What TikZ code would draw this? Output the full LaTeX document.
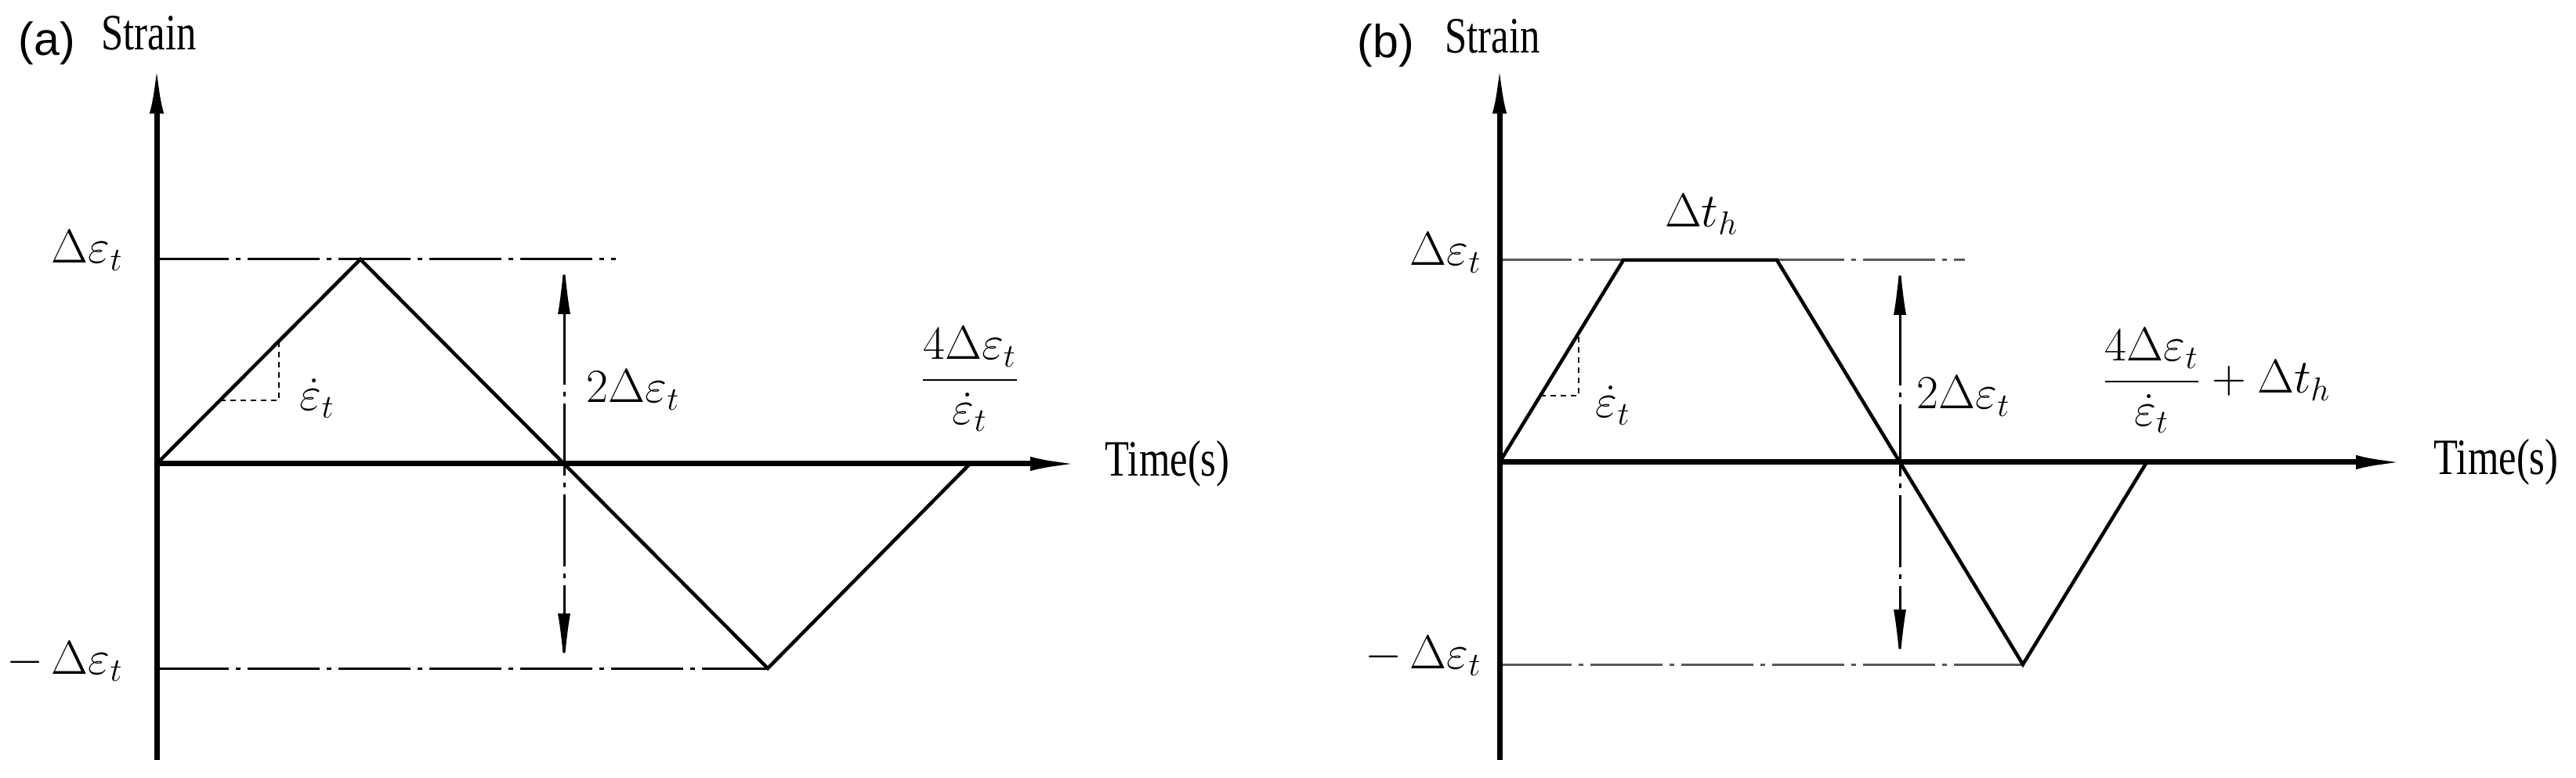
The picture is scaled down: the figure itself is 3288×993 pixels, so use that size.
\documentclass[tikz,border=0pt]{standalone}
\usepackage{amsmath}
\usepackage{fontspec}
\setmainfont{Liberation Serif}
\newfontfamily\narrowserif[FakeStretch=0.78]{Liberation Serif}
\newfontfamily\panelfont{Liberation Sans}
\usetikzlibrary{positioning,calc,arrows.meta}

\begin{document}
\begin{tikzpicture}[x=0.1mm, y=-0.1mm]
    \tikzstyle{axis line} = [line width=0.7mm, -{Latex[length=6.5mm, width=1.8mm]}]
    \tikzstyle{wave line} = [line width=0.45mm]
    \tikzstyle{level line} = [line width=0.3mm, dash pattern=on 9.2mm off 0.9mm on 0.6mm off 0.9mm]
    \tikzstyle{dim line} = [level line, {Latex[length=7mm, width=1.6mm]}-{Latex[length=7mm, width=1.6mm]}]
    \tikzstyle{slope line} = [line width=0.25mm, dash pattern=on 0.7mm off 0.6mm]
    \tikzstyle{math label} = [inner sep=0pt, font=\fontsize{18}{22}\selectfont]
    \tikzstyle{axis label} = [inner sep=0pt, font=\narrowserif\fontsize{18.5}{22}\selectfont]
    \tikzstyle{panel label} = [inner sep=0pt, font=\panelfont\fontsize{16.8}{20}\selectfont]
    \useasboundingbox (0,0) rectangle (3288,993);

    % (a) triangular wave
    \coordinate (oa) at (200,592);
    \coordinate (ytopa) at (200,80);
    \coordinate (ybota) at (200,970);
    \coordinate (xenda) at (1380,592);
    \coordinate (pka) at (460,331);
    \coordinate (zca) at (720,592);
    \coordinate (tra) at (980,853);
    \coordinate (enda) at (1238,592);
    \coordinate (hiya) at (200,331);
    \coordinate (hixa) at (786,331);
    \coordinate (loya) at (200,853);
    \coordinate (hida) at (720,331);
    \coordinate (loda) at (720,853);
    \coordinate (sla) at ($(oa)!0.31!(pka)$);
    \coordinate (sta) at ($(oa)!0.6!(pka)$);

    \draw[level line] (hiya) -- (hixa);
    \draw[level line] (loya) -- (tra);
    \draw[dim line] (hida) -- (loda);
    \draw[slope line] (sla) -| (sta);
    \draw[axis line] (ybota) -- (ytopa);
    \draw[axis line] (oa) -- (xenda);
    \draw[wave line] (oa) -- (pka) -- (zca) -- (tra) -- (enda);

    \node[panel label] (taga) at (60,55) {(a)};
    \node[axis label] (straina) at (190,42) {Strain};
    \node[axis label, anchor=west] (timea) at (1410,592) {Time(s)};
    \node[math label, anchor=base east] (hilaba) at (158,336) {$\Delta\varepsilon_t$};
    \node[math label, anchor=base east] (lolaba) at (158,860) {$-\,\Delta\varepsilon_t$};
    \node[math label, anchor=base west] (ratea) at (382,524) {$\dot{\varepsilon}_t$};
    \node[math label, anchor=base west] (ampa) at (748,514) {$2\Delta\varepsilon_t$};
    \node[math label, anchor=base] (perioda) at (1238,500) {$\dfrac{4\Delta\varepsilon_t}{\dot{\varepsilon}_t}$};

    % (b) trapezoidal wave
    \coordinate (ob) at (1914,590);
    \coordinate (ytopb) at (1914,80);
    \coordinate (ybotb) at (1914,970);
    \coordinate (xendb) at (3072,590);
    \coordinate (h1b) at (2072,332);
    \coordinate (h2b) at (2268,332);
    \coordinate (zcb) at (2425,590);
    \coordinate (trb) at (2582,848);
    \coordinate (endb) at (2740,590);
    \coordinate (hiyb) at (1914,332);
    \coordinate (hixb) at (2508,332);
    \coordinate (loyb) at (1914,848);
    \coordinate (hidb) at (2425,332);
    \coordinate (lodb) at (2425,848);
    \coordinate (slb) at ($(ob)!0.33!(h1b)$);
    \coordinate (stb) at ($(ob)!0.64!(h1b)$);

    \draw[level line, black!65] (hiyb) -- (hixb);
    \draw[level line, black!65] (loyb) -- (trb);
    \draw[dim line] (hidb) -- (lodb);
    \draw[slope line] (slb) -| (stb);
    \draw[axis line] (ybotb) -- (ytopb);
    \draw[axis line] (ob) -- (xendb);
    \draw[wave line] (ob) -- (h1b) -- (h2b) -- (zcb) -- (trb) -- (endb);

    \node[panel label] (tagb) at (1769,58) {(b)};
    \node[axis label] (strainb) at (1905,46) {Strain};
    \node[axis label, anchor=west] (timeb) at (3106,590) {Time(s)};
    \node[math label, anchor=base east] (hilabb) at (1892,339) {$\Delta\varepsilon_t$};
    \node[math label, anchor=base east] (lolabb) at (1892,853) {$-\,\Delta\varepsilon_t$};
    \node[math label, anchor=base west] (rateb) at (2036,533) {$\dot{\varepsilon}_t$};
    \node[math label, anchor=base west] (ampb) at (2446,522) {$2\Delta\varepsilon_t$};
    \node[math label, anchor=base] (holdb) at (2172,290) {$\Delta t_h$};
    \node[math label, anchor=base west] (periodb) at (2682,502) {$\dfrac{4\Delta\varepsilon_t}{\dot{\varepsilon}_t}+\Delta t_h$};
\end{tikzpicture}
\end{document}
